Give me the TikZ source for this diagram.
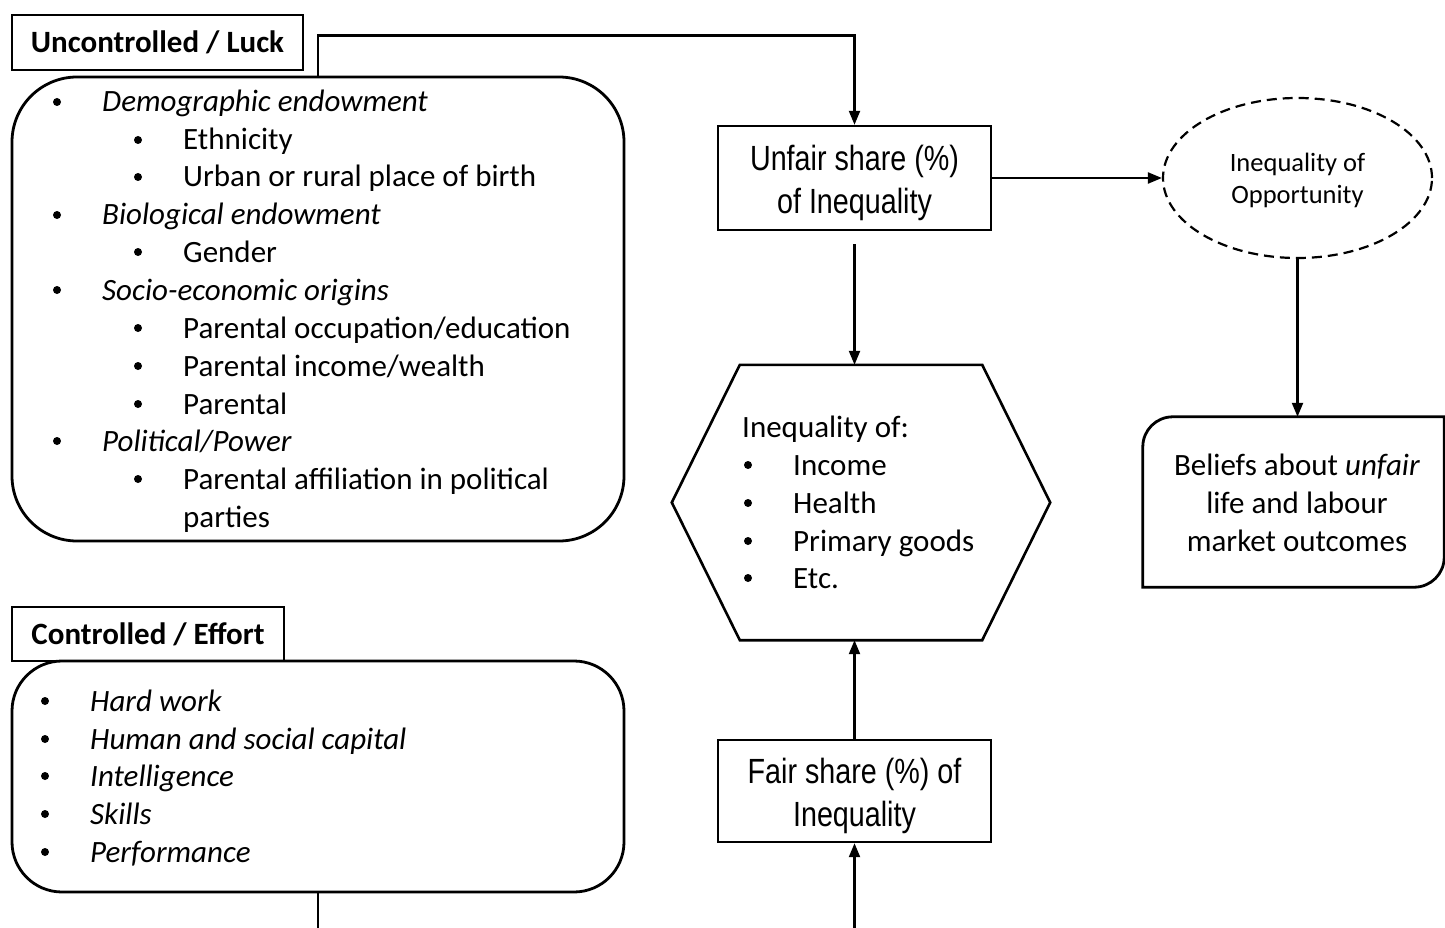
\documentclass[tikz,border=0pt]{standalone}
\usepackage{fontspec}
\setmainfont{Carlito}
\newfontfamily\narrowfont{Liberation Sans}[FakeStretch=0.82]
\usetikzlibrary{shapes.geometric,arrows.meta}
\tikzset{
  bx/.style={draw, line width=2.8pt},
  hdr/.style={draw, line width=2.4pt, inner sep=0, font=\fontsize{31pt}{36pt}\selectfont\bfseries},
  rbox/.style={bx, inner sep=0, minimum width=612pt},
  sharebox/.style={draw, line width=2.4pt, inner sep=0, minimum width=273pt},
  sharetxt/.style={inner sep=0, align=center, font=\narrowfont\fontsize{35pt}{43pt}\selectfont},
  itm/.style={anchor=base west, inner sep=0, font=\fontsize{31pt}{36pt}\selectfont},
  bul/.style={circle, fill, inner sep=0, minimum size=8pt},
  arr/.style={line width=2.2pt, -{Triangle[length=14pt,width=11pt]}},
  conn/.style={line width=2.2pt},
}
\newcommand{\li}[5]{\node[bul] (#1b) at (#2,#4) {}; \node[itm] (#1) at (#3,#4+10) {#5};}
\begin{document}
\begin{tikzpicture}[x=1pt,y=-1pt]
\useasboundingbox (0,0) rectangle (1445,928);
\clip (0,0) rectangle (1445,928);

% Uncontrolled
\node[hdr, minimum width=291pt, minimum height=55pt] (uhdr) at (157.5,42.5) {Uncontrolled / Luck};
\node[rbox, minimum height=464pt, rounded corners=65pt] (ubox) at (318,309) {};
\li{u1}{57}{102}{102}{\textit{Demographic endowment}}
\li{u2}{138}{183}{140}{Ethnicity}
\li{u3}{138}{183}{177}{Urban or rural place of birth}
\li{u4}{57}{102}{215}{\textit{Biological endowment}}
\li{u5}{138}{183}{252}{Gender}
\li{u6}{57}{102}{290}{\textit{Socio-economic origins}}
\li{u7}{138}{183}{328}{Parental occupation/education}
\li{u8}{138}{183}{366}{Parental income/wealth}
\li{u9}{138}{183}{404}{Parental}
\li{u10}{57}{102}{441}{\textit{Political/Power}}
\li{u11}{138}{183}{479}{Parental affiliation in political}
\node[itm] (u12) at (183,517+10) {parties};

% Controlled
\node[hdr, minimum width=272pt, minimum height=54pt] (chdr) at (148,634) {Controlled / Effort};
\node[rbox, minimum height=231pt, rounded corners=50pt] (cbox) at (318,776.5) {};
\li{c1}{45}{90}{701}{\textit{Hard work}}
\li{c2}{45}{90}{739}{\textit{Human and social capital}}
\li{c3}{45}{90}{776}{\textit{Intelligence}}
\li{c4}{45}{90}{814}{\textit{Skills}}
\li{c5}{45}{90}{852}{\textit{Performance}}

% Share boxes
\node[sharebox, minimum height=104pt] (unfair) at (854.5,178) {};
\node[sharetxt] (unfairtxt) at (854.5,183) {Unfair share (\%)\\of Inequality};
\node[sharebox, minimum height=102pt] (fair) at (854.5,791) {};
\node[sharetxt] (fairtxt) at (854.5,796) {Fair share (\%) of\\Inequality};

% Hexagon
\node[inner sep=0, minimum width=378pt, minimum height=275pt] (hex) at (861,502.5) {};
\draw[line width=2.6pt] (hex.west) -- ([xshift=68pt]hex.north west) -- ([xshift=-68pt]hex.north east) -- (hex.east)
  -- ([xshift=-68pt]hex.south east) -- ([xshift=68pt]hex.south west) -- cycle;
\node[itm] (h0) at (742,427+10) {Inequality of:};
\li{h1}{748}{793}{465}{Income}
\li{h2}{748}{793}{503}{Health}
\li{h3}{748}{793}{541}{Primary goods}
\li{h4}{748}{793}{578}{Etc.}

% Ellipse
\node[ellipse, draw, dash pattern=on 10pt off 6pt, line width=2.2pt, minimum width=269pt, minimum height=160pt,
  inner sep=0] (ell) at (1297.5,178) {};
\node[inner sep=0, align=center, font=\fontsize{26.5pt}{32pt}\selectfont] (elltxt) at (1297.5,180) {Inequality of\\Opportunity};

% Beliefs
\node[inner sep=0, minimum width=301pt, minimum height=170pt] (beliefs) at (1293.5,502) {};
\node[inner sep=0, align=center, font=\fontsize{31pt}{38pt}\selectfont] (beliefstxt) at (1297,503) {Beliefs about \textit{unfair}\\life and labour\\market outcomes};
\draw[bx] (beliefs.south west) -- ([yshift=-30pt]beliefs.north west)
  .. controls ([yshift=-13.4pt]beliefs.north west) and ([xshift=13.4pt]beliefs.north west) .. ([xshift=30pt]beliefs.north west)
  -- (beliefs.north east) -- ([yshift=30pt]beliefs.south east)
  .. controls ([yshift=13.4pt]beliefs.south east) and ([xshift=-13.4pt]beliefs.south east) .. ([xshift=-30pt]beliefs.south east)
  -- cycle;

% Connectors
\coordinate (cout) at (318,940);
\coordinate (fin) at (854.5,940);
\draw[arr] (ubox.north) -- ++(0,-40) -| (unfair.north);
\draw[arr] (unfair.east) -- (ell.west);
\draw[arr] (ell.south) -- (ell.south |- beliefs.north);
\draw[arr, shorten <=13pt] (unfair.south) -- (unfair.south |- hex.north);
\draw[arr] (fair.north) -- (fair.north |- hex.south);
\draw[arr] (fin) -- (fair.south);
\draw[conn] (cbox.south) -- (cout);
\end{tikzpicture}
\end{document}
